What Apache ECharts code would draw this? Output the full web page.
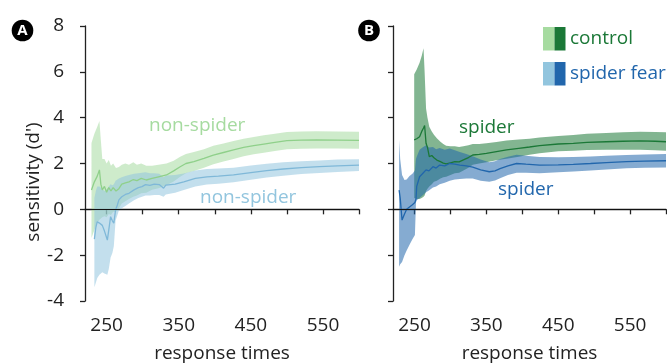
<!DOCTYPE html>
<html>
<head>
<meta charset="utf-8">
<script src="https://cdn.jsdelivr.net/npm/echarts@6/dist/echarts.min.js"></script>
<style>
  html, body { margin: 0; padding: 0; background: #fff; }
  #main { width: 667px; height: 363px; }
</style>
</head>
<body>
<div id="main"></div>
<script>
// panel A: control, non-spider
var aCtrlX    = [229, 233, 237, 240, 242, 244, 247, 250, 253, 256, 259, 263, 267, 271, 276, 281, 287, 292, 298, 305, 313, 322, 333, 343, 352, 360, 371, 385, 398, 412, 426, 440, 454, 468, 481, 500, 520, 541, 570, 600];
var aCtrlMean = [0.84, 1.2, 1.45, 1.72, 1.1, 0.85, 1.0, 0.75, 0.95, 0.8, 0.95, 0.8, 0.9, 1.1, 1.15, 1.2, 1.3, 1.25, 1.35, 1.28, 1.35, 1.42, 1.5, 1.68, 1.86, 2.0, 2.08, 2.22, 2.37, 2.48, 2.59, 2.7, 2.78, 2.85, 2.91, 3.0, 3.02, 3.03, 3.02, 3.01];
var aCtrlLo   = [-1.25, -0.9, -0.6, -0.45, -0.4, -0.35, -0.3, -0.35, -0.2, -0.25, -0.1, -0.1, 0.05, 0.25, 0.35, 0.45, 0.55, 0.6, 0.7, 0.72, 0.85, 0.92, 1.05, 1.22, 1.42, 1.57, 1.67, 1.82, 1.97, 2.09, 2.2, 2.32, 2.4, 2.47, 2.53, 2.62, 2.64, 2.66, 2.65, 2.64];
var aCtrlHi   = [2.9, 3.3, 3.6, 3.85, 3.0, 2.2, 2.2, 2.0, 2.15, 1.9, 2.0, 1.8, 1.85, 1.95, 2.0, 1.95, 2.05, 1.95, 2.0, 1.9, 1.9, 1.95, 2.0, 2.12, 2.3, 2.42, 2.5, 2.62, 2.77, 2.87, 2.98, 3.08, 3.16, 3.23, 3.29, 3.38, 3.4, 3.41, 3.4, 3.39];

// panel A: spider fear, non-spider
var aFearX    = [233, 235, 237, 240, 244, 247, 251, 253, 255.5, 258, 260, 262.4, 265, 267, 271, 276, 281, 288, 294, 299, 304, 310, 316, 323, 329, 332, 345, 357, 373, 389, 405, 426, 450, 472, 495, 520, 545, 570, 600];
var aFearMean = [-1.3, -0.8, -0.54, -0.6, -0.7, -0.95, -1.34, -0.9, -0.32, -0.5, -0.6, -0.03, 0.2, 0.41, 0.55, 0.65, 0.7, 0.85, 0.95, 0.99, 1.08, 1.05, 1.1, 1.08, 0.92, 1.06, 1.1, 1.2, 1.35, 1.42, 1.45, 1.5, 1.6, 1.69, 1.76, 1.82, 1.86, 1.9, 1.93];
var aFearLo   = [-3.4, -3.2, -3.0, -2.85, -2.75, -2.8, -2.85, -2.6, -2.1, -1.9, -1.6, -0.5, -0.25, -0.05, 0.05, 0.15, 0.26, 0.4, 0.5, 0.55, 0.6, 0.6, 0.63, 0.63, 0.55, 0.65, 0.72, 0.84, 1.0, 1.08, 1.12, 1.18, 1.29, 1.39, 1.47, 1.54, 1.59, 1.63, 1.67];
var aFearHi   = [0.5, 0.8, 1.0, 1.0, 0.9, 0.8, 0.9, 1.0, 1.1, 1.05, 1.1, 1.25, 1.3, 1.35, 1.4, 1.45, 1.5, 1.55, 1.58, 1.6, 1.62, 1.58, 1.58, 1.55, 1.4, 1.48, 1.5, 1.56, 1.7, 1.76, 1.78, 1.82, 1.91, 1.99, 2.05, 2.1, 2.13, 2.17, 2.19];

// panel B: control, spider
var bCtrlX    = [249.5, 253, 257, 260, 262.5, 264, 266, 268, 270.5, 274, 277, 281, 286, 290, 294, 300, 306, 312, 318, 325, 331, 340, 350, 364, 378, 395, 410, 424, 450, 471, 490, 517, 540, 564, 585, 600];
var bCtrlMean = [3.03, 3.08, 3.17, 3.4, 3.55, 3.66, 2.88, 2.7, 2.3, 2.35, 2.25, 2.15, 2.08, 2.02, 1.98, 2.03, 2.08, 2.07, 2.16, 2.26, 2.37, 2.4, 2.44, 2.52, 2.59, 2.66, 2.72, 2.78, 2.85, 2.88, 2.92, 2.95, 2.97, 2.99, 2.97, 2.95];
var bCtrlLo   = [0.5, 0.45, 0.45, 0.5, 0.55, 0.6, 0.8, 0.9, 1.0, 1.1, 1.2, 1.25, 1.35, 1.4, 1.42, 1.5, 1.58, 1.6, 1.7, 1.82, 1.95, 2.0, 2.05, 2.14, 2.21, 2.3, 2.38, 2.45, 2.54, 2.56, 2.59, 2.6, 2.6, 2.6, 2.58, 2.56];
var bCtrlHi   = [5.9, 6.1, 6.4, 6.7, 7.03, 6.0, 4.4, 4.0, 3.6, 3.4, 3.25, 3.1, 2.95, 2.85, 2.78, 2.75, 2.75, 2.72, 2.75, 2.8, 2.85, 2.85, 2.88, 2.94, 3.0, 3.05, 3.08, 3.13, 3.2, 3.24, 3.3, 3.33, 3.36, 3.39, 3.38, 3.36];

// panel B: spider fear, spider
var bFearX    = [228.5, 230, 232.6, 236, 239, 243, 247, 250.5, 252, 253, 257, 261, 266, 270, 275.6, 280, 285, 292, 299, 306, 313, 322, 331, 342, 354, 362, 369, 380, 392, 405, 424, 450, 471, 495, 517, 545, 570, 600];
var bFearMean = [0.84, 0.5, -0.47, -0.2, 0.0, 0.1, 0.2, 0.3, 0.45, 1.0, 1.42, 1.55, 1.72, 1.68, 1.86, 1.8, 1.93, 1.9, 2.0, 1.97, 1.93, 1.9, 1.84, 1.72, 1.64, 1.68, 1.78, 1.9, 2.0, 1.97, 1.93, 1.94, 1.96, 2.0, 2.04, 2.08, 2.1, 2.12];
var bFearLo   = [-2.5, -2.4, -2.3, -2.0, -1.8, -1.55, -1.3, -1.12, 0.3, 0.4, 0.5, 0.6, 0.75, 0.82, 0.95, 1.0, 1.1, 1.16, 1.25, 1.3, 1.32, 1.35, 1.35, 1.25, 1.2, 1.26, 1.36, 1.5, 1.6, 1.6, 1.58, 1.62, 1.65, 1.7, 1.74, 1.79, 1.81, 1.83];
var bFearHi   = [3.03, 2.2, 1.5, 1.28, 1.3, 1.45, 1.55, 1.7, 2.2, 2.3, 2.6, 2.7, 2.8, 2.7, 2.72, 2.62, 2.68, 2.6, 2.65, 2.58, 2.5, 2.42, 2.32, 2.18, 2.06, 2.1, 2.2, 2.3, 2.38, 2.34, 2.28, 2.27, 2.28, 2.31, 2.34, 2.37, 2.39, 2.41];

var xTicks = [250, 300, 350, 400, 450, 500, 550, 600];
var xLabels = [250, 350, 450, 550];

var FONT = '"Open Sans", sans-serif';
var INK = '#222';

function pairs(xs, ys) {
  return xs.map(function (x, i) { return [x, ys[i]]; });
}

// confidence band as one polygon: upper edge forward, lower edge back
function band(idx, xs, lo, hi, fill) {
  return {
    type: 'custom',
    xAxisIndex: idx,
    yAxisIndex: idx,
    silent: true,
    z: 1,
    data: xs.map(function (x, i) { return [x, lo[i], hi[i]]; }),
    encode: { x: 0, y: [1, 2] },
    renderItem: function (params, api) {
      if (params.dataIndex !== 0) return;
      var pts = [];
      for (var i = 0; i < xs.length; i++) pts.push(api.coord([xs[i], hi[i]]));
      for (var j = xs.length - 1; j >= 0; j--) pts.push(api.coord([xs[j], lo[j]]));
      return { type: 'polygon', shape: { points: pts }, style: { fill: fill } };
    }
  };
}

function line(idx, xs, ys, color, zero) {
  var s = {
    type: 'line',
    xAxisIndex: idx,
    yAxisIndex: idx,
    data: pairs(xs, ys),
    showSymbol: false,
    silent: true,
    z: 3,
    lineStyle: { color: color, width: 1.3 }
  };
  if (zero) {
    s.markLine = {
      silent: true,
      symbol: 'none',
      label: { show: false },
      lineStyle: { color: '#111', width: 1.2, type: 'solid' },
      data: [{ yAxis: 0 }]
    };
  }
  return s;
}

function xAxis(idx) {
  return {
    gridIndex: idx,
    type: 'value',
    min: 220,
    max: 600,
    name: 'response times',
    nameLocation: 'middle',
    nameGap: 43,
    nameTextStyle: { fontFamily: FONT, fontSize: 19, color: INK },
    axisLine: { lineStyle: { color: INK, width: 1.3 } },
    axisTick: { customValues: xTicks, length: 5, lineStyle: { color: INK, width: 1.3 } },
    axisLabel: { customValues: xLabels, margin: 15, fontFamily: FONT, fontSize: 19, color: INK },
    splitLine: { show: false }
  };
}

function yAxis(idx, labels) {
  return {
    gridIndex: idx,
    type: 'value',
    min: -4,
    max: 8,
    interval: 2,
    axisLine: { show: true, lineStyle: { color: INK, width: 1.3 } },
    axisTick: { show: true, length: 5, lineStyle: { color: INK, width: 1.3 } },
    axisLabel: { show: labels, margin: 21, fontFamily: FONT, fontSize: 19, color: INK },
    splitLine: { show: false }
  };
}

function txt(left, top, text, color) {
  return {
    type: 'text', left: left, top: top, silent: true,
    style: { text: text, fill: color, font: '19px ' + FONT }
  };
}

var chart = echarts.init(document.getElementById('main'));
chart.setOption({
  animation: false,
  backgroundColor: '#fff',
  grid: [
    { left: 85, top: 26, width: 274, height: 275, outerBoundsMode: 'none' },
    { left: 393, top: 26, width: 273, height: 275, outerBoundsMode: 'none' }
  ],
  xAxis: [xAxis(0), xAxis(1)],
  yAxis: [yAxis(0, true), yAxis(1, false)],
  series: [
    band(0, aCtrlX, aCtrlLo, aCtrlHi, 'rgba(166,219,160,0.55)'),
    band(0, aFearX, aFearLo, aFearHi, 'rgba(146,197,222,0.55)'),
    line(0, aCtrlX, aCtrlMean, '#8fd08a', true),
    line(0, aFearX, aFearMean, '#7fb8d8', false),
    band(1, bCtrlX, bCtrlLo, bCtrlHi, 'rgba(27,120,55,0.55)'),
    band(1, bFearX, bFearLo, bFearHi, 'rgba(33,102,172,0.55)'),
    line(1, bCtrlX, bCtrlMean, '#1b7837', true),
    line(1, bFearX, bFearMean, '#2166ac', false)
  ],
  graphic: [
    { type: 'circle', shape: { cx: 22.5, cy: 30.5, r: 10.8 }, style: { fill: '#000' }, silent: true },
    { type: 'text', x: 22.5, y: 31, silent: true,
      style: { text: 'A', fill: '#fff', font: 'bold 15px ' + FONT, align: 'center', verticalAlign: 'middle' } },
    { type: 'circle', shape: { cx: 369, cy: 30.5, r: 10.8 }, style: { fill: '#000' }, silent: true },
    { type: 'text', x: 369, y: 31, silent: true,
      style: { text: 'B', fill: '#fff', font: 'bold 15px ' + FONT, align: 'center', verticalAlign: 'middle' } },
    { type: 'text', x: 34, y: 182, rotation: Math.PI / 2, silent: true,
      style: { text: "sensitivity (d')", fill: INK, font: '19px ' + FONT, align: 'center', verticalAlign: 'middle' } },
    // legend
    { type: 'rect', shape: { x: 543, y: 27, width: 11.5, height: 23.5 }, style: { fill: '#a6dba0' }, silent: true },
    { type: 'rect', shape: { x: 554.5, y: 27, width: 11, height: 23.5 }, style: { fill: '#1b7837' }, silent: true },
    { type: 'rect', shape: { x: 543, y: 62, width: 11.5, height: 23.5 }, style: { fill: '#92c5de' }, silent: true },
    { type: 'rect', shape: { x: 554.5, y: 62, width: 11, height: 23.5 }, style: { fill: '#2166ac' }, silent: true },
    txt(570, 29, 'control', '#1b7837'),
    txt(570, 64, 'spider fear', '#2166ac'),
    // annotations
    txt(149, 116, 'non-spider', '#a6dba0'),
    txt(200, 188, 'non-spider', '#92c5de'),
    txt(459, 118, 'spider', '#1b7837'),
    txt(498, 180, 'spider', '#2166ac')
  ]
});
</script>
</body>
</html>
